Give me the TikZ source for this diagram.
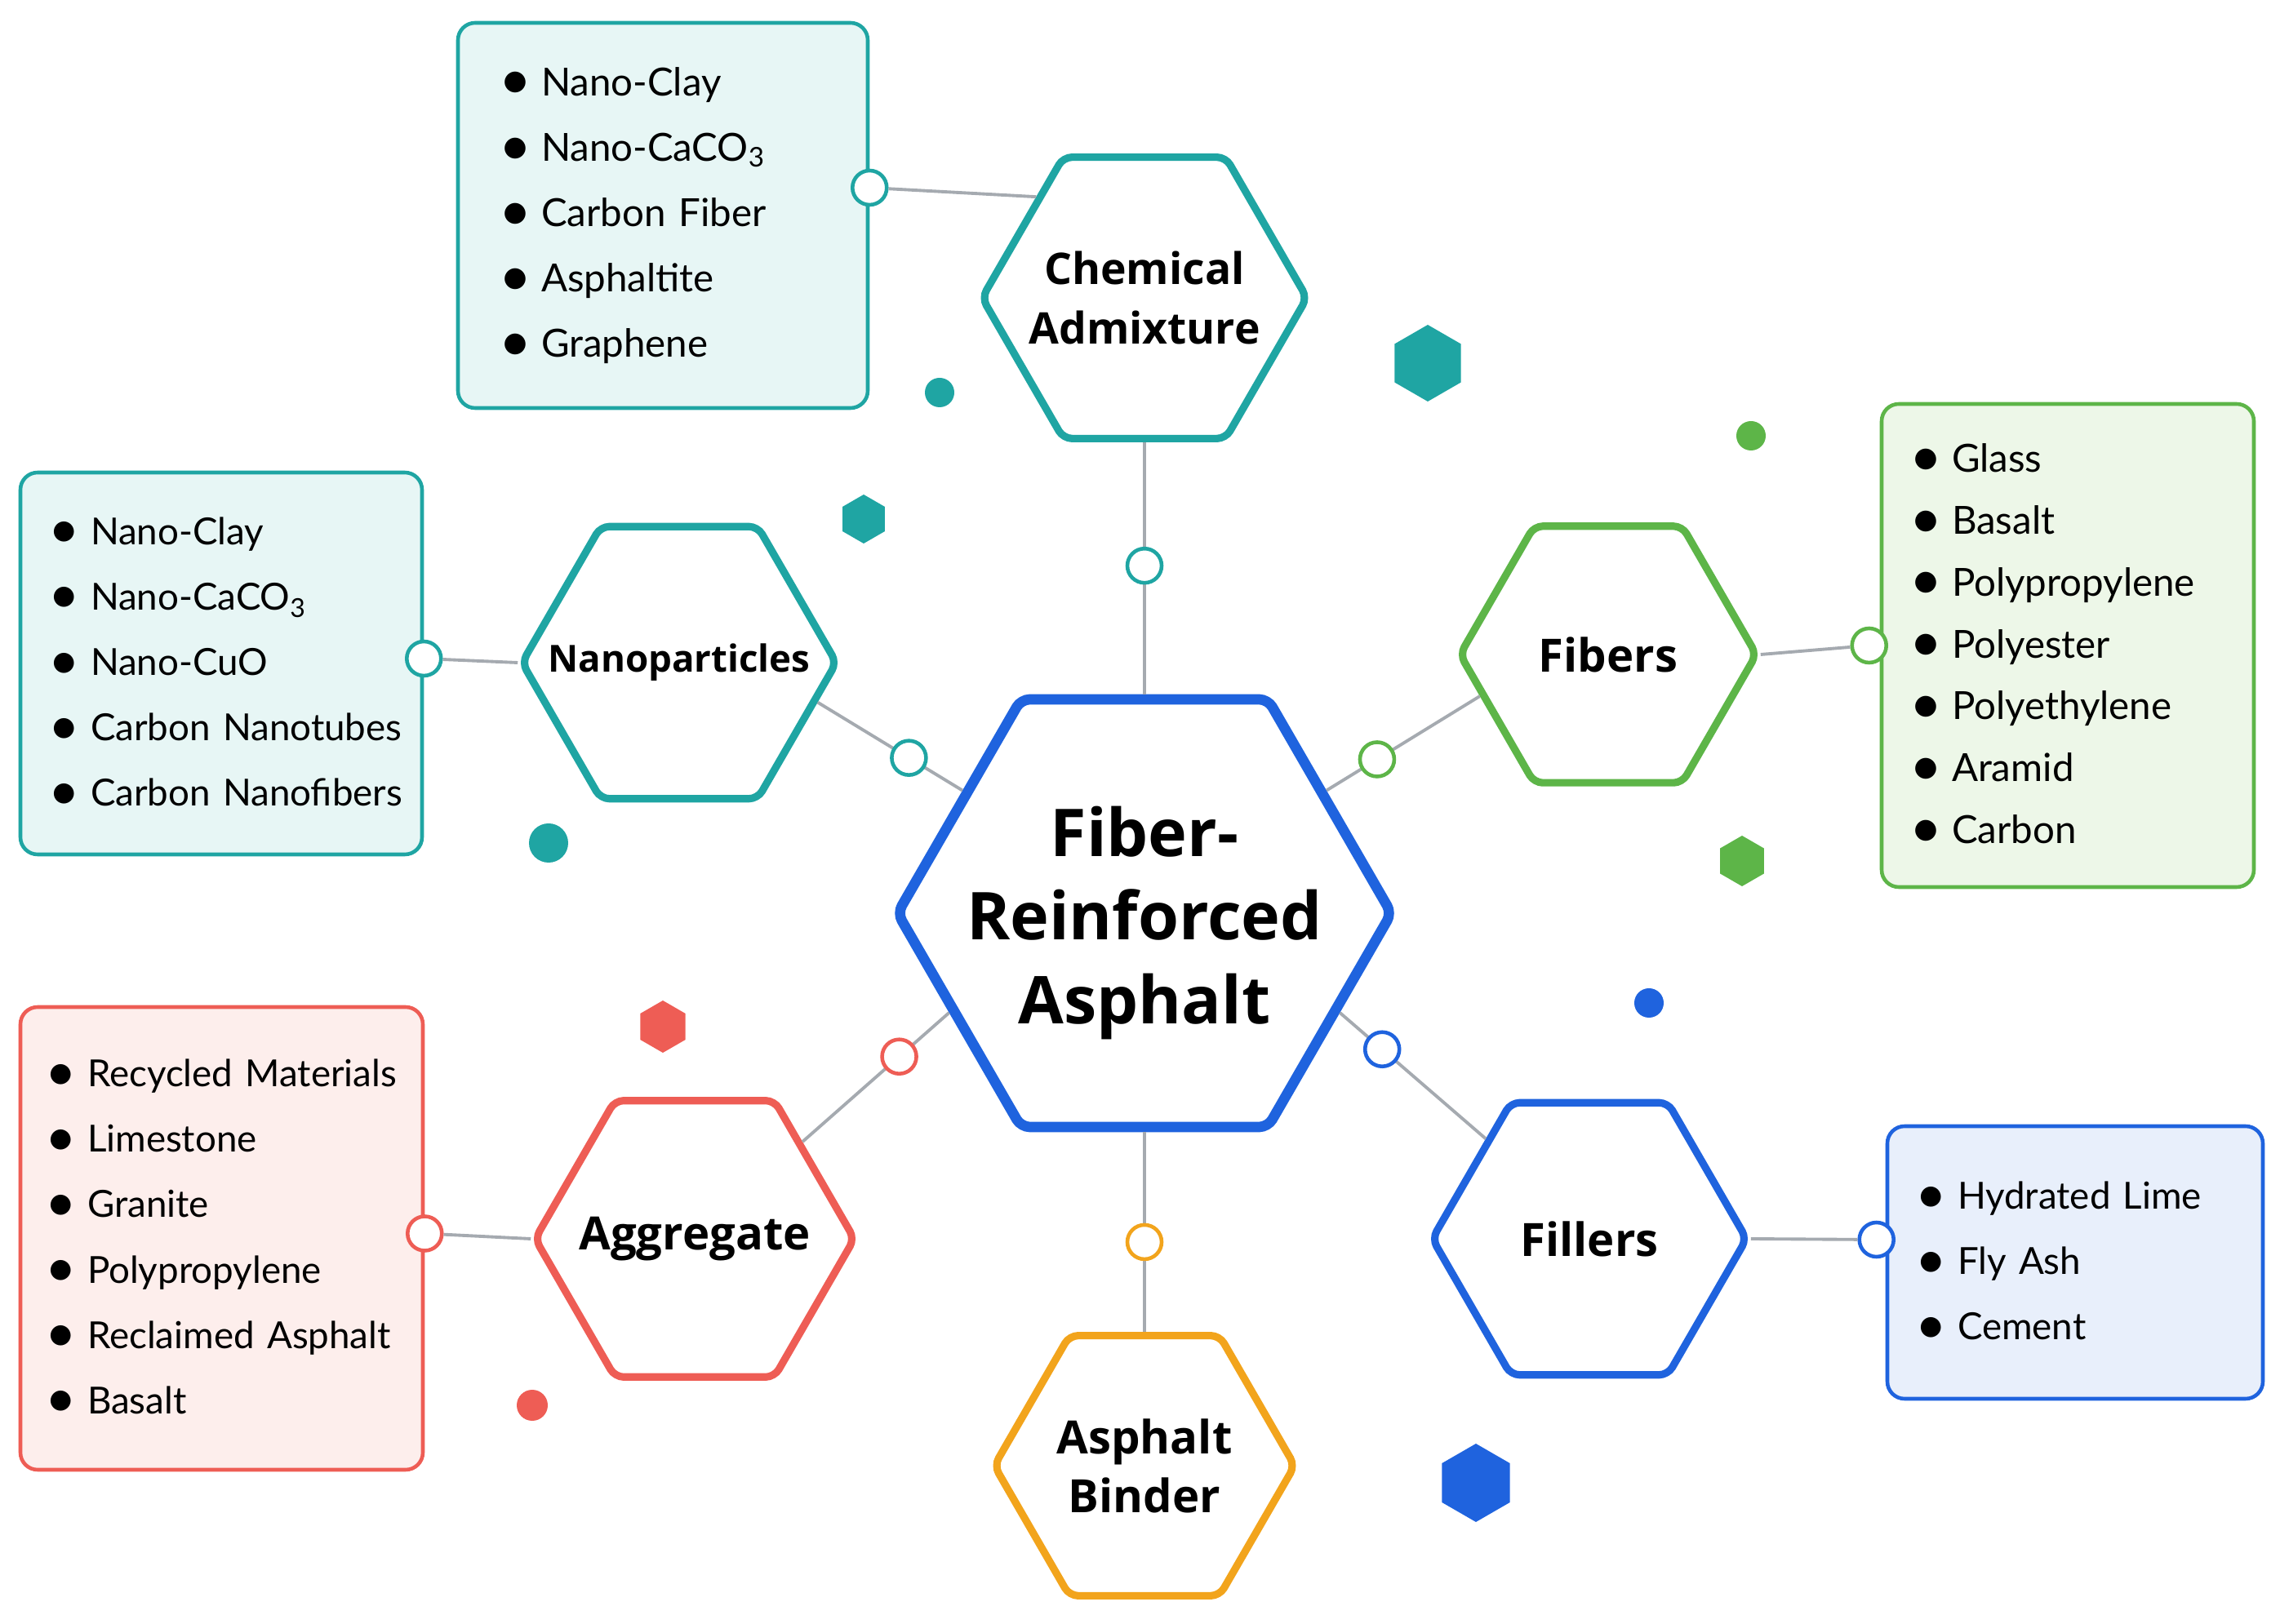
\documentclass[tikz,border=0pt]{standalone}
\usepackage{fontspec}
\setmainfont{Lato}
\newfontfamily\headfont{Open Sans}
\usepackage{graphicx}
\usepackage{tikz}
\usetikzlibrary{shapes.geometric,calc,positioning}

\definecolor{mmteal}{HTML}{1FA5A3}
\definecolor{mmtealbg}{HTML}{E7F6F5}
\definecolor{mmgreen}{HTML}{5DB548}
\definecolor{mmgreenbg}{HTML}{EDF7E8}
\definecolor{mmblue}{HTML}{1F63DE}
\definecolor{mmbluebg}{HTML}{E8EFFB}
\definecolor{mmred}{HTML}{EE5D55}
\definecolor{mmredbg}{HTML}{FDEEEC}
\definecolor{mmorange}{HTML}{F2A41C}
\definecolor{mmgrey}{HTML}{A5AAB0}

\newcommand{\itm}[1]{\mbox{\makebox[0.52cm][l]{\raisebox{-0.2ex}{\scalebox{1.45}{\textbullet}}}#1}}

\tikzset{
  mm/hex/.style={draw=#1, fill=white, regular polygon, regular polygon sides=6, line width=2.6pt, inner sep=0pt, rounded corners=3pt},
  mm/title/.style={align=center, inner sep=0pt, font=\headfont\bfseries\fontsize{16}{20.5}\selectfont},
  mm/hub/.style={mm/hex=mmblue, line width=3.6pt, minimum size=6.05cm},
  mm/list/.style={draw=#1, fill=#1bg, rounded corners=6pt, line width=1.3pt, align=left, inner xsep=0.34cm, inner ysep=0pt, font=\fontsize{13}{22.8}\selectfont},
  mm/knot/.style={circle, draw=#1, fill=white, line width=1.3pt, minimum size=0.42cm, inner sep=0pt},
  mm/link/.style={draw=mmgrey, line width=1.1pt},
  mm/dot/.style={circle, fill=#1, inner sep=0pt},
  mm/chip/.style={regular polygon, regular polygon sides=6, shape border rotate=30, fill=#1, inner sep=0pt}
}

\begin{document}
\begin{tikzpicture}
  \useasboundingbox (0,0) rectangle (27.93,-19.90);

  \node[mm/hub, label={[mm/title, yshift=-0.12cm, font=\headfont\bfseries\fontsize{23}{29.3}\selectfont]center:Fiber-\\Reinforced\\Asphalt}] (hub) at (14.02,-11.19) {};
  \node[mm/hex=mmteal, minimum size=3.98cm, label={[mm/title, font=\headfont\bfseries\fontsize{15.2}{20.5}\selectfont]center:Chemical\\Admixture}] (chem) at (14.02,-3.65) {};
  \node[mm/hex=mmteal, minimum size=3.85cm, label={[mm/title, font=\headfont\bfseries\fontsize{13}{16}\selectfont]center:Nanoparticles}] (nano) at (8.32,-8.12) {};
  \node[mm/hex=mmgreen, minimum size=3.63cm, label={[mm/title]center:Fibers}] (fib) at (19.70,-8.02) {};
  \node[mm/hex=mmred, minimum size=3.91cm, label={[mm/title]center:Aggregate}] (agg) at (8.51,-15.18) {};
  \node[mm/hex=mmblue, minimum size=3.85cm, label={[mm/title]center:Fillers}] (fil) at (19.47,-15.18) {};
  \node[mm/hex=mmorange, minimum size=3.68cm, label={[mm/title]center:Asphalt\\Binder}] (bind) at (14.02,-17.96) {};

  \node[mm/list=mmteal, inner xsep=0.5cm, text width=4.02cm, minimum height=4.72cm, font=\fontsize{13.5}{22.8}\selectfont] (chembox) at (8.12,-2.64)
    {\itm{Nano-Clay}\\\itm{Nano-CaCO\textsubscript{3}}\\\itm{Carbon Fiber}\\\itm{Asphaltite}\\\itm{Graphene}};
  \node[mm/list=mmteal, text width=4.24cm, minimum height=4.68cm] (nanobox) at (2.71,-8.13)
    {\itm{Nano-Clay}\\\itm{Nano-CaCO\textsubscript{3}}\\\itm{Nano-CuO}\\\itm{Carbon Nanotubes}\\\itm{Carbon Nanofibers}};
  \node[mm/list=mmgreen, text width=3.88cm, minimum height=5.92cm, font=\fontsize{13.5}{21.6}\selectfont] (fibbox) at (25.33,-7.91)
    {\itm{Glass}\\\itm{Basalt}\\\itm{Polypropylene}\\\itm{Polyester}\\\itm{Polyethylene}\\\itm{Aramid}\\\itm{Carbon}};
  \node[mm/list=mmred, inner xsep=0.3cm, text width=4.33cm, minimum height=5.67cm] (aggbox) at (2.715,-15.175)
    {\itm{Recycled Materials}\\\itm{Limestone}\\\itm{Granite}\\\itm{Polypropylene}\\\itm{Reclaimed Asphalt}\\\itm{Basalt}};
  \node[mm/list=mmblue, text width=3.92cm, minimum height=3.34cm] (filbox) at (25.42,-15.47)
    {\itm{Hydrated Lime}\\\itm{Fly Ash}\\\itm{Cement}};

  % hub links
  \draw[mm/link] (chem) -- node[mm/knot=mmteal, pos=0.49] (chemknot) {} (hub);
  \draw[mm/link] (nano.344) -- node[mm/knot=mmteal, pos=0.63] (nanoknot) {} (hub.146);
  \draw[mm/link] (fib.198) -- node[mm/knot=mmgreen, pos=0.67] (fibknot) {} (hub.34);
  \draw[mm/link] (agg.42) -- node[mm/knot=mmred, pos=0.66] (aggknot) {} (hub.207);
  \draw[mm/link] (fil.136) -- node[mm/knot=mmblue, pos=0.71] (filknot) {} (hub.333);
  \draw[mm/link] (bind) -- node[mm/knot=mmorange, pos=0.45] (bindknot) {} (hub);

  % box links
  \node[mm/knot=mmteal] (chemboxknot) at ($(chembox.east)+(0,0.34)$) {};
  \node[mm/knot=mmteal] (nanoboxknot) at ($(nanobox.east)+(0,0.06)$) {};
  \node[mm/knot=mmgreen] (fibboxknot) at ($(fibbox.west)+(-0.13,0)$) {};
  \node[mm/knot=mmred] (aggboxknot) at ($(aggbox.east)+(0,0.06)$) {};
  \node[mm/knot=mmblue] (filboxknot) at ($(filbox.west)+(-0.11,0.28)$) {};
  \draw[mm/link] (chemboxknot) -- (chem.137);
  \draw[mm/link] (nanoboxknot) -- (nano.west);
  \draw[mm/link] (fib.east) -- (fibboxknot);
  \draw[mm/link] (aggboxknot) -- (agg.west);
  \draw[mm/link] (fil.east) -- (filboxknot);

  \node[mm/chip=mmteal, minimum size=0.94cm] (chipa) at (17.49,-4.45) {};
  \node[mm/chip=mmteal, minimum size=0.60cm] (chipb) at (10.58,-6.36) {};
  \node[mm/chip=mmgreen, minimum size=0.62cm] (chipc) at (21.34,-10.55) {};
  \node[mm/chip=mmred, minimum size=0.64cm] (chipd) at (8.12,-12.58) {};
  \node[mm/chip=mmblue, minimum size=0.96cm] (chipe) at (18.08,-18.17) {};
  \node[mm/dot=mmteal, minimum size=0.36cm] (dota) at (11.51,-4.81) {};
  \node[mm/dot=mmteal, minimum size=0.48cm] (dotb) at (6.72,-10.33) {};
  \node[mm/dot=mmgreen, minimum size=0.36cm] (dotc) at (21.45,-5.34) {};
  \node[mm/dot=mmblue, minimum size=0.36cm] (dotd) at (20.20,-12.29) {};
  \node[mm/dot=mmred, minimum size=0.38cm] (dote) at (6.52,-17.22) {};
\end{tikzpicture}
\end{document}
